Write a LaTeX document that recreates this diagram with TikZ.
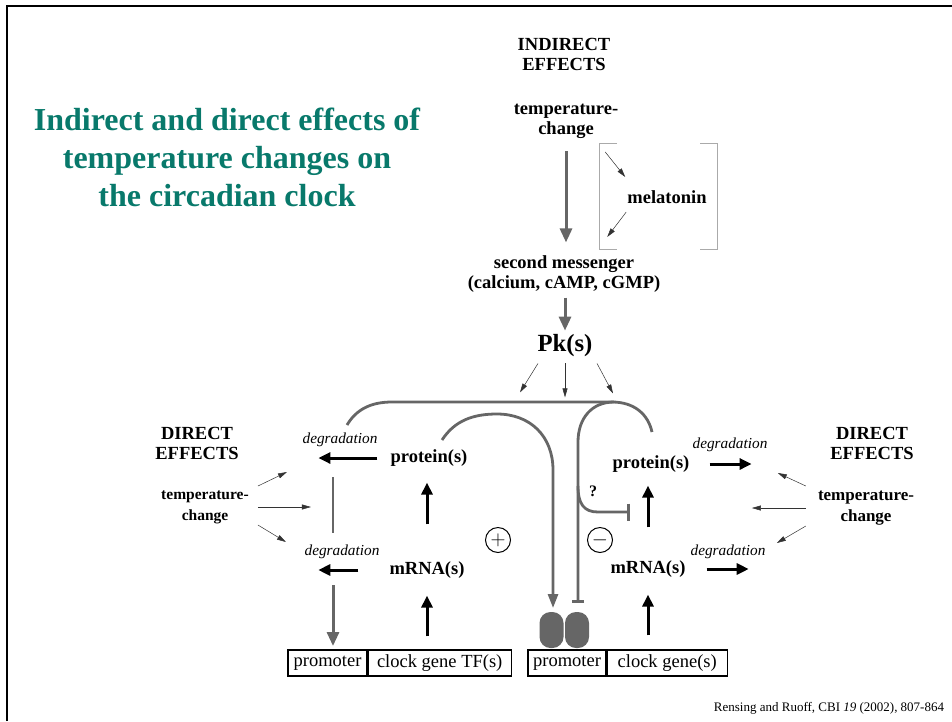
\documentclass[tikz,border=0pt]{standalone}
\usepackage{fontspec}
\setmainfont{Liberation Serif}
\usepackage{tikz}
\usetikzlibrary{arrows.meta}
\definecolor{figTeal}{HTML}{08796B}
\definecolor{figGray}{HTML}{666666}
\definecolor{figLight}{HTML}{AAAAAA}

\begin{document}
\begin{tikzpicture}[
  % slide grid: x goes right, y goes down (one unit = one pixel)
  x=1pt, y=-1pt,
  lbl/.style={
    font=\fontsize{18.5}{20}\selectfont\bfseries,
    align=center, inner sep=0pt
  },
  deg/.style={font=\fontsize{15.3}{18}\selectfont\itshape, inner sep=0pt},
  gene/.style={
    draw, line width=1.2pt, minimum height=26pt,
    inner sep=0pt, font=\fontsize{18.5}{20}\selectfont
  },
  blob/.style={
    fill=figGray, rounded corners=11pt,
    minimum width=24pt, minimum height=36pt, inner sep=0pt
  },
  sign/.style={
    circle, draw, line width=1pt, minimum size=25pt,
    inner sep=0pt, font=\fontsize{20}{20}\selectfont
  },
  pathway/.style={draw=figGray, line width=2.8pt},
  grayarrow/.style={pathway, line width=3pt, -{Triangle[length=14pt,width=12pt]}},
  blackarrow/.style={line width=3pt, -{Triangle[length=12pt,width=11pt]}},
  thinarrow/.style={line width=0.5pt, black!80, -{Triangle[length=9pt,width=5pt]}},
  bracket/.style={draw=figLight, line width=0.9pt},
]
\useasboundingbox (0,0) rectangle (952,721);

% --- Frame ---
\draw[line width=1.5pt] (7,721) -- (7,6) -- (952,6);

% --- Title ---
\node[font=\fontsize{32}{38}\selectfont\bfseries, text=figTeal,
      align=center, inner sep=0pt]
  (title) at (227,157)
  {Indirect and direct effects of\\temperature changes on\\the circadian clock};

% --- Indirect effects (top column) ---
\node[lbl] (indirect) at (564,54) {INDIRECT\\EFFECTS};
\node[lbl] (tempI) at (566,121) {temperature-\\change};
\node[lbl] (melatonin) at (667,197) {melatonin};
\node[lbl] (second) at (564,274) {second messenger\\(calcium, cAMP, cGMP)};
\node[lbl, font=\fontsize{24.7}{26}\selectfont\bfseries] (pk) at (565,346) {Pk(s)};

\draw[grayarrow, shorten <=13pt, shorten >=13pt]
  (tempI.south) -- (tempI.south |- second.north);
\draw[grayarrow, shorten <=5pt, shorten >=4pt]
  (pk.north |- second.south) -- (pk.north);

% melatonin side branch in brackets
\draw[bracket] (617,143) -- (599,143) -- (599,249) -- (617,249);
\draw[bracket] (700,143) -- (717,143) -- (717,249) -- (700,249);
\draw[thinarrow] ([shift={(-22,-45)}]melatonin.west) -- ([shift={(-2,-20)}]melatonin.west);
\draw[thinarrow] ([shift={(-1,15)}]melatonin.west) -- ([shift={(-20,40)}]melatonin.west);

% kinase acting on the clock proteins
\foreach \sx/\ex/\ey in {-27/-45/35, 0/0/40, 32/48/36} {
  \draw[thinarrow] ([shift={(\sx,6)}]pk.south) -- ([shift={(\ex,\ey)}]pk.south);
}

% --- Feedback loops (gray) ---
\draw[pathway] (347,425) .. controls (356,410) and (370,402) .. (392,402)
  -- (612,402) .. controls (634,402) and (648,414) .. (652,432);
\draw[pathway, -{Bar[width=12pt]}]
  (614,402) .. controls (592,402) and (578,418) .. (578,442) -- (578,603);
\draw[pathway, -{Bar[width=17pt]}]
  (578,486) .. controls (578,504) and (584,512) .. (598,512) -- (630,512);
\draw[pathway, -{Triangle[length=14pt,width=10pt]}]
  (442,440) .. controls (455,420) and (474,414) .. (497,414)
  .. controls (530,414) and (553,436) .. (553,470) -- (553,608);
\draw[pathway] (333,477) -- (333,533);
\draw[grayarrow] (333,585) -- (333,646);

\node[font=\fontsize{16}{16}\selectfont\bfseries, inner sep=0pt] (qmark) at (593,491) {?};
\node[sign] (plus) at (498,540) {$+$};
\node[sign] (minus) at (600,540) {$-$};

% --- Direct effects, left ---
\node[lbl] (directL) at (197,443) {DIRECT\\EFFECTS};
\node[lbl, font=\fontsize{15.5}{21}\selectfont\bfseries] (tempL) at (205,507) {temperature-\\change};
\node[deg] (degPL) at (340,440) {degradation};
\node[lbl] (protL) at (429,458) {protein(s)};
\node[deg] (degML) at (342,552) {degradation};
\node[lbl] (mrnaL) at (427,570) {mRNA(s)};

\foreach \sy/\dx/\dy in {-21/29/-14, 0/53/0, 18/28/17} {
  \draw[thinarrow] ([shift={(9,\sy)}]tempL.east) -- ++(\dx,\dy);
}

% --- Direct effects, right ---
\node[lbl] (directR) at (872,443) {DIRECT\\EFFECTS};
\node[lbl, font=\fontsize{17}{21}\selectfont\bfseries] (tempR) at (866,508) {temperature-\\change};
\node[deg] (degPR) at (730,445) {degradation};
\node[lbl] (protR) at (651,464) {protein(s)};
\node[deg] (degMR) at (728,552) {degradation};
\node[lbl] (mrnaR) at (648,569) {mRNA(s)};

\foreach \sy/\dx/\dy in {-22/-28/-13, 0/-54/0, 18/-29/17} {
  \draw[thinarrow] ([shift={(-12,\sy)}]tempR.west) -- ++(\dx,\dy);
}

% --- Genes ---
\node[gene, minimum width=79pt] (promL) at (327.5,663) {promoter};
\node[gene, minimum width=143pt, anchor=west] (geneL) at (promL.east) {clock gene TF(s)};
\node[gene, minimum width=78pt] (promR) at (567,663) {promoter};
\node[gene, minimum width=120pt, anchor=west] (geneR) at (promR.east) {clock gene(s)};
\node[blob] (blobL) at (551.5,630) {};
\node[blob] (blobR) at (577,630) {};

% --- Transcription, translation, degradation ---
\draw[blackarrow, shorten <=13pt, shorten >=17pt] (mrnaL.south |- geneL.north) -- (mrnaL.south);
\draw[blackarrow, shorten <=37pt, shorten >=16pt] (mrnaL.north) -- (mrnaL.north |- protL.south);
\draw[blackarrow, shorten <=13pt] (protL.west) -- ++(-72,0);
\draw[blackarrow, shorten <=31pt] (mrnaL.west) -- ++(-71,0);

\draw[blackarrow, shorten <=14pt, shorten >=17pt] (mrnaR.south |- geneR.north) -- (mrnaR.south);
\draw[blackarrow, shorten <=33pt, shorten >=13pt] (mrnaR.north) -- (mrnaR.north |- protR.south);
\draw[blackarrow, shorten <=20pt] (protR.east) -- ++(62,0);
\draw[blackarrow, shorten <=21pt] (mrnaR.east) -- ++(63,0);

% --- Source ---
\node[font=\fontsize{13}{13}\selectfont, inner sep=0pt] (cite) at (829,708)
  {Rensing and Ruoff, CBI \textit{19} (2002), 807-864};

\end{tikzpicture}
\end{document}
